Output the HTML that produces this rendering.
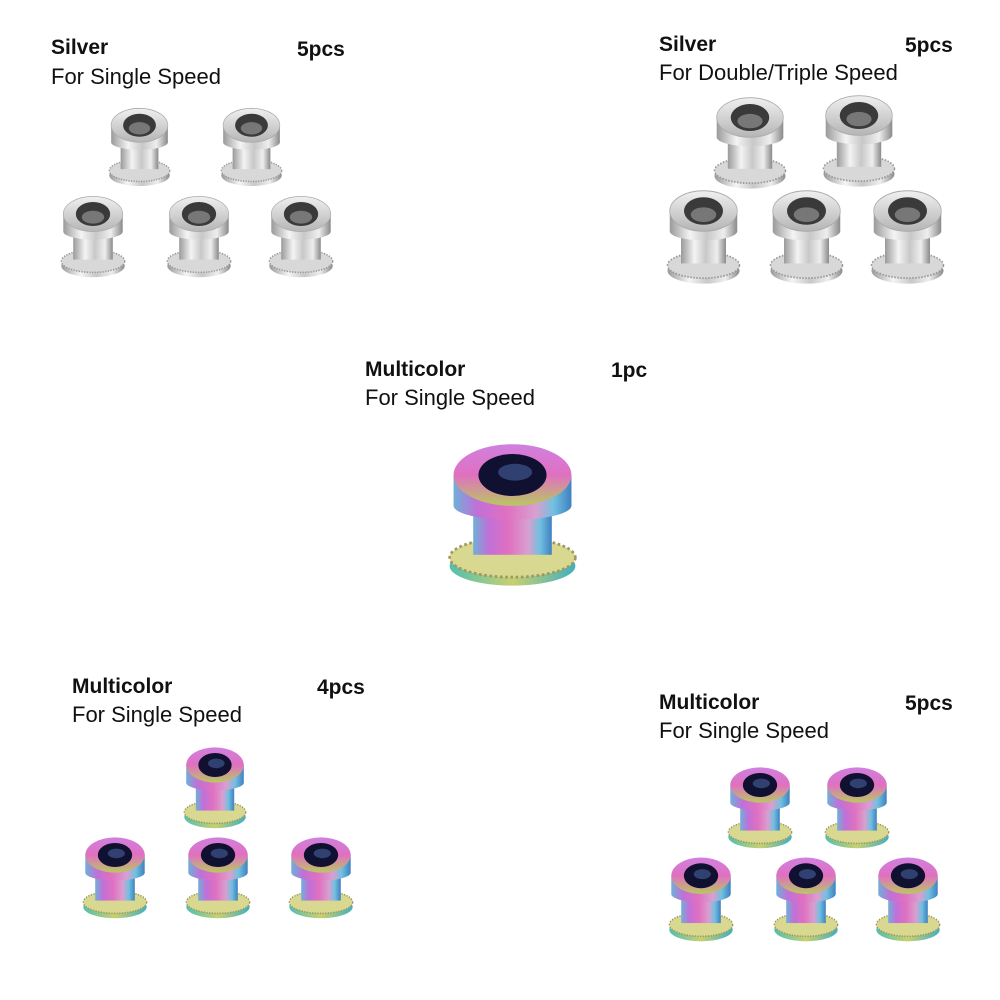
<!DOCTYPE html>
<html><head><style>
body{margin:0;background:#fff;width:1000px;height:1000px;position:relative;overflow:hidden;font-family:"Liberation Sans",Arial,sans-serif}
.t{position:absolute;font-size:22px;color:#111;line-height:1}
.b{font-weight:bold;font-size:21px}
svg{position:absolute;left:0;top:0}
</style></head><body>
<svg width="1000" height="1000" viewBox="0 0 1000 1000">
<defs>
<linearGradient id="sv" x1="0" x2="1"><stop offset="0" stop-color="#9a9a9a"/><stop offset=".3" stop-color="#f4f4f4"/><stop offset=".55" stop-color="#c8c8c8"/><stop offset=".8" stop-color="#eeeeee"/><stop offset="1" stop-color="#8a8a8a"/></linearGradient>
<linearGradient id="svt" x1="0" y1="0" x2="0" y2="1"><stop offset="0" stop-color="#f0f0f0"/><stop offset="1" stop-color="#b5b5b5"/></linearGradient>
<linearGradient id="rb" x1="0" x2="1" y1="0" y2="0"><stop offset="0" stop-color="#6fb0d8"/><stop offset=".2" stop-color="#c070d8"/><stop offset=".45" stop-color="#e070c0"/><stop offset=".7" stop-color="#d8a0d0"/><stop offset=".85" stop-color="#70c0e0"/><stop offset="1" stop-color="#4080c0"/></linearGradient>
<linearGradient id="rbv" x1="0" y1="0" x2="0" y2="1"><stop offset="0" stop-color="#d080e0"/><stop offset=".5" stop-color="#e070c0"/><stop offset="1" stop-color="#b8c860"/></linearGradient>
<linearGradient id="rbf" x1="0" x2="1"><stop offset="0" stop-color="#50c0b0"/><stop offset=".5" stop-color="#c8d070"/><stop offset="1" stop-color="#40b0c0"/></linearGradient>
<g id="bs">
<ellipse cx="50" cy="90" rx="48" ry="14" fill="url(#sv)"/>
<ellipse cx="50" cy="84" rx="48" ry="14" fill="#d8d8d8" stroke="#999" stroke-width="2" stroke-dasharray="2 2"/>
<rect x="20" y="40" width="60" height="42" fill="url(#sv)"/>
<rect x="5" y="25" width="90" height="22" fill="url(#sv)"/>
<ellipse cx="50" cy="47" rx="45" ry="10" fill="url(#sv)"/>
<ellipse cx="50" cy="25" rx="45" ry="22" fill="url(#svt)" stroke="#aaa"/>
<ellipse cx="50" cy="25" rx="26" ry="15" fill="#3a3a3a"/>
<ellipse cx="50" cy="29" rx="17" ry="8" fill="#777"/>
</g>
<g id="br">
<ellipse cx="50" cy="90" rx="48" ry="14" fill="url(#rbf)"/>
<ellipse cx="50" cy="84" rx="48" ry="14" fill="#d8d890" stroke="#a09860" stroke-width="2" stroke-dasharray="2 2"/>
<rect x="20" y="40" width="60" height="42" fill="url(#rb)"/>
<rect x="5" y="25" width="90" height="22" fill="url(#rb)"/>
<ellipse cx="50" cy="47" rx="45" ry="10" fill="url(#rb)"/>
<ellipse cx="50" cy="25" rx="45" ry="22" fill="url(#rbv)"/>
<ellipse cx="50" cy="25" rx="26" ry="15" fill="#101030"/>
<ellipse cx="52" cy="23" rx="13" ry="6" fill="#304070"/>
</g>
</defs>
<use href="#bs" transform="translate(108,106) scale(.63,.77)"/>
<use href="#bs" transform="translate(220,106) scale(.63,.77)"/>
<use href="#bs" transform="translate(60,194) scale(.66,.8)"/>
<use href="#bs" transform="translate(166,194) scale(.66,.8)"/>
<use href="#bs" transform="translate(268,194) scale(.66,.8)"/>
<use href="#bs" transform="translate(713,95) scale(.74,.9)"/>
<use href="#bs" transform="translate(822,93) scale(.74,.9)"/>
<use href="#bs" transform="translate(666,188) scale(.75,.92)"/>
<use href="#bs" transform="translate(769,188) scale(.75,.92)"/>
<use href="#bs" transform="translate(870,188) scale(.75,.92)"/>
<use href="#br" transform="translate(447,440) scale(1.31,1.4)"/>
<use href="#br" transform="translate(183,745) scale(.64,.8)"/>
<use href="#br" transform="translate(82,835) scale(.66,.8)"/>
<use href="#br" transform="translate(185,835) scale(.66,.8)"/>
<use href="#br" transform="translate(288,835) scale(.66,.8)"/>
<use href="#br" transform="translate(727,765) scale(.66,.8)"/>
<use href="#br" transform="translate(824,765) scale(.66,.8)"/>
<use href="#br" transform="translate(668,855) scale(.66,.83)"/>
<use href="#br" transform="translate(773,855) scale(.66,.83)"/>
<use href="#br" transform="translate(875,855) scale(.66,.83)"/>
</svg>
<div class="t b" style="left:51px;top:37px">Silver</div>
<div class="t b" style="left:297px;top:39px">5pcs</div>
<div class="t" style="left:51px;top:66px">For Single Speed</div>
<div class="t b" style="left:659px;top:34px">Silver</div>
<div class="t b" style="left:905px;top:35px">5pcs</div>
<div class="t" style="left:659px;top:62px">For Double/Triple Speed</div>
<div class="t b" style="left:365px;top:359px">Multicolor</div>
<div class="t b" style="left:611px;top:360px">1pc</div>
<div class="t" style="left:365px;top:387px">For Single Speed</div>
<div class="t b" style="left:72px;top:676px">Multicolor</div>
<div class="t b" style="left:317px;top:677px">4pcs</div>
<div class="t" style="left:72px;top:704px">For Single Speed</div>
<div class="t b" style="left:659px;top:692px">Multicolor</div>
<div class="t b" style="left:905px;top:693px">5pcs</div>
<div class="t" style="left:659px;top:720px">For Single Speed</div>
</body></html>
